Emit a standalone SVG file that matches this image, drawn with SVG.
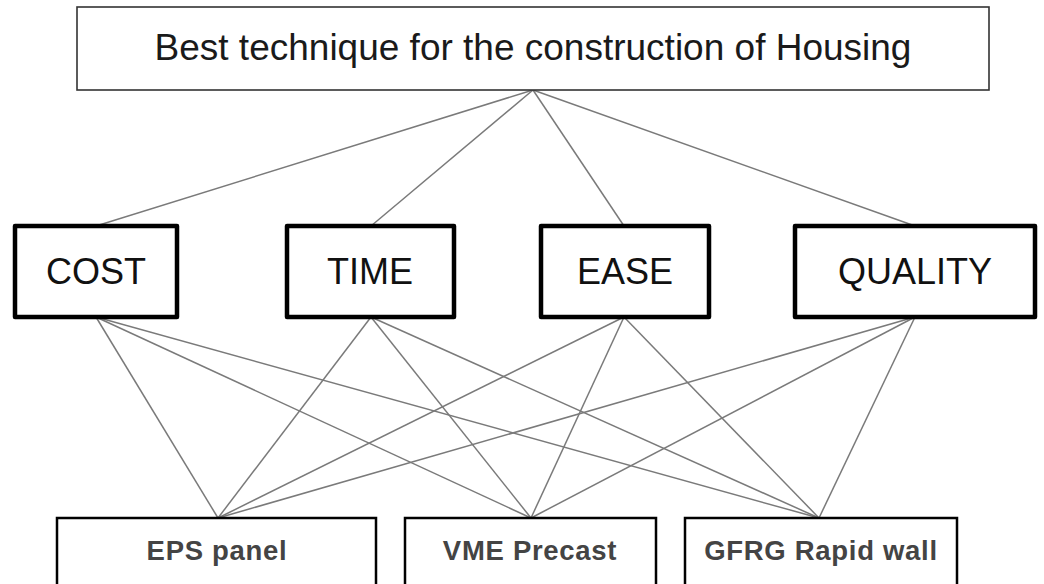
<svg xmlns="http://www.w3.org/2000/svg" width="1044" height="584" viewBox="0 0 1044 584">
  <style>
    .goal { fill: #ffffff; stroke: #333333; stroke-width: 1.6; }
    .crit { fill: #ffffff; stroke: #000000; stroke-width: 4.5; stroke-linejoin: round; }
    .alt { fill: #ffffff; stroke: #000000; stroke-width: 2.5; }
    .link { stroke: #7a7a7a; stroke-width: 1.5; fill: none; }
    .t-goal { font-family: "Liberation Sans", Arial, sans-serif; font-size: 37px; fill: #1a1a1a; text-anchor: middle; }
    .t-crit { font-family: "Liberation Sans", Arial, sans-serif; font-size: 36px; fill: #111111; text-anchor: middle; }
    .t-alt { font-family: "Liberation Sans", Arial, sans-serif; font-size: 27.5px; font-weight: bold; letter-spacing: 0.7px; fill: #444444; text-anchor: middle; }
  </style>

  <!-- connectors: goal to criteria, criteria to alternatives -->
  <g id="connectors">
    <line class="link" x1="533" y1="90" x2="96" y2="226"/>
    <line class="link" x1="533" y1="90" x2="371" y2="226"/>
    <line class="link" x1="533" y1="90" x2="624" y2="226"/>
    <line class="link" x1="533" y1="90" x2="915" y2="226"/>

    <line class="link" x1="96" y1="317" x2="218" y2="518"/>
    <line class="link" x1="96" y1="317" x2="531" y2="518"/>
    <line class="link" x1="96" y1="317" x2="819" y2="518"/>

    <line class="link" x1="371" y1="317" x2="218" y2="518"/>
    <line class="link" x1="371" y1="317" x2="531" y2="518"/>
    <line class="link" x1="371" y1="317" x2="819" y2="518"/>

    <line class="link" x1="624" y1="317" x2="218" y2="518"/>
    <line class="link" x1="624" y1="317" x2="531" y2="518"/>
    <line class="link" x1="624" y1="317" x2="819" y2="518"/>

    <line class="link" x1="915" y1="317" x2="218" y2="518"/>
    <line class="link" x1="915" y1="317" x2="531" y2="518"/>
    <line class="link" x1="915" y1="317" x2="819" y2="518"/>
  </g>

  <g id="goal">
    <rect class="goal" x="77" y="7" width="912" height="83"/>
    <text class="t-goal" x="533" y="60">Best technique for the construction of Housing</text>
  </g>

  <g id="cost">
    <rect class="crit" x="15" y="226" width="162" height="91"/>
    <text class="t-crit" x="96" y="284">COST</text>
  </g>
  <g id="time">
    <rect class="crit" x="287" y="226" width="167" height="91"/>
    <text class="t-crit" x="370" y="284">TIME</text>
  </g>
  <g id="ease">
    <rect class="crit" x="541" y="226" width="168" height="91"/>
    <text class="t-crit" x="625" y="284">EASE</text>
  </g>
  <g id="quality">
    <rect class="crit" x="795" y="226" width="240" height="91"/>
    <text class="t-crit" x="915" y="284">QUALITY</text>
  </g>

  <g id="eps-panel">
    <rect class="alt" x="57" y="518" width="319" height="90"/>
    <text class="t-alt" x="217" y="560">EPS panel</text>
  </g>
  <g id="vme-precast">
    <rect class="alt" x="405" y="518" width="251" height="90"/>
    <text class="t-alt" x="530" y="560">VME Precast</text>
  </g>
  <g id="gfrg-rapid-wall">
    <rect class="alt" x="685" y="518" width="272" height="90"/>
    <text class="t-alt" x="821" y="560">GFRG Rapid wall</text>
  </g>
</svg>
